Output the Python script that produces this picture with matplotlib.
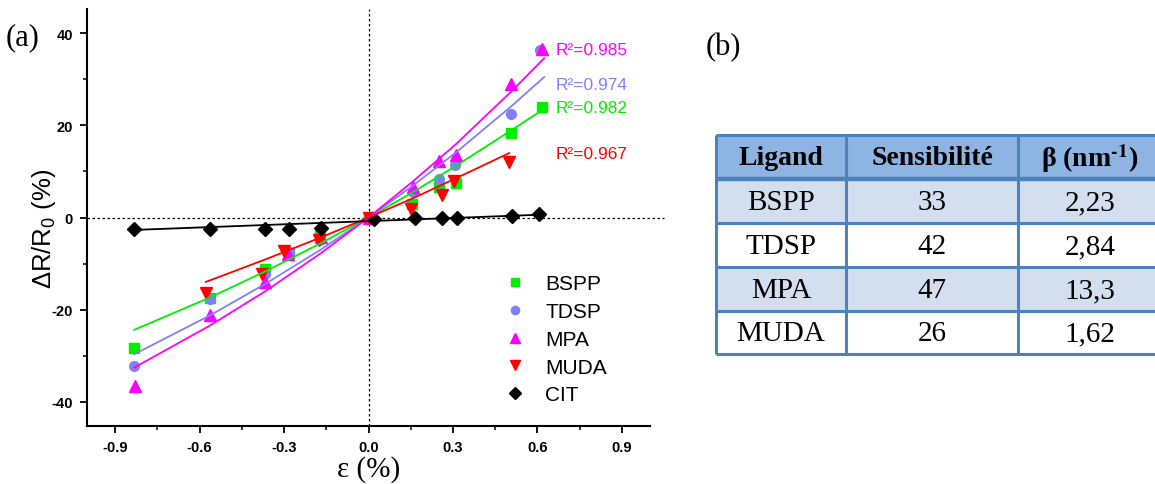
import matplotlib
matplotlib.use('Agg')
import matplotlib.pyplot as plt
from matplotlib.patches import Rectangle
from matplotlib.lines import Line2D
from matplotlib.ticker import MultipleLocator

plt.rcParams['mathtext.fontset'] = 'custom'
plt.rcParams['mathtext.rm'] = 'Liberation Sans'
plt.rcParams['mathtext.it'] = 'Liberation Sans:italic'
plt.rcParams['mathtext.bf'] = 'Liberation Sans:bold'
plt.rcParams['font.family'] = ['Liberation Sans', 'DejaVu Sans']

# ---------------- data (panel a) ----------------
bspp_x = [-0.832, -0.564, -0.366, -0.282, -0.174, 0.0, 0.155, 0.252, 0.311, 0.506, 0.618]
bspp_y = [-28.4, -17.5, -11.2, -7.8, -4.0, 0.0, 2.9, 6.6, 7.5, 18.4, 24.0]
tdsp_x = [-0.832, -0.564, -0.366, -0.282, -0.174, 0.0, 0.157, 0.249, 0.308, 0.506, 0.608]
tdsp_y = [-32.2, -17.7, -12.3, -7.6, -4.8, 0.0, 5.5, 8.4, 11.4, 22.5, 36.4]
mpa_x = [-0.829, -0.564, -0.366, -0.287, -0.168, 0.0, 0.157, 0.249, 0.311, 0.506, 0.618]
mpa_y = [-36.6, -21.2, -14.1, -7.9, -4.3, 0.0, 6.6, 12.3, 13.6, 29.0, 36.6]
muda_x = [-0.578, -0.377, -0.300, -0.177, 0.0, 0.151, 0.261, 0.302, 0.500]
muda_y = [-16.3, -12.3, -7.2, -4.9, 0.0, 1.8, 4.9, 8.0, 12.0]
cit_x = [-0.832, -0.564, -0.366, -0.282, -0.168, 0.02, 0.166, 0.260, 0.313, 0.509, 0.606]
cit_y = [-2.5, -2.4, -2.4, -2.4, -2.2, -0.3, -0.2, -0.2, -0.1, 0.3, 0.7]

# fitted curves
fit_x = [-0.832, -0.564, -0.366, -0.17, 0.0, 0.155, 0.31, 0.506, 0.624]
bspp_fit = [-24.4, -17.4, -11.7, -5.6, 0.0, 5.4, 11.2, 18.9, 23.6]
tdsp_fit = [-29.7, -21.3, -14.4, -7.0, 0.0, 6.8, 14.1, 24.1, 30.5]
mpa_fit = [-32.6, -23.5, -16.0, -7.8, 0.0, 7.7, 15.9, 27.3, 34.6]
muda_fit_x = [-0.578, -0.366, -0.17, 0.0, 0.155, 0.31, 0.5]
muda_fit = [-14.0, -9.1, -4.35, 0.0, 4.1, 8.5, 14.0]
cit_fit_x = [-0.832, 0.606]
cit_fit = [-2.7, 0.6]

r2_labels = ['R²=0.985', 'R²=0.974', 'R²=0.982', 'R²=0.967']
r2_y = [36.4, 29.0, 24.0, 14.0]

# ---------------- data (panel b) ----------------
ligands = ['BSPP', 'TDSP', 'MPA', 'MUDA']
sensibilite = ['33', '42', '47', '26']
beta = ['2,23', '2,84', '13,3', '1,62']
headers = ['Ligand', 'Sensibilité', 'β (nm$^{\\mathbf{‐1}}$)']

C_BSPP = '#00EE00'
C_TDSP = '#8080FF'
C_MPA = '#FF00FF'
C_MUDA = '#FF0000'
C_CIT = '#000000'

W, H = 1155, 485
fig = plt.figure(figsize=(W / 100, H / 100), dpi=100)
ax = fig.add_axes([87 / W, 1 - 427 / H, (650 - 87) / W, (427 - 10) / H])

ax.plot([-1.0, 1.05], [0, 0], color='black', lw=0.9, ls=(0, (2, 2)), zorder=1, clip_on=False)
ax.axvline(0, color='black', lw=0.9, ls=(0, (2, 2)), zorder=1)

series = [
    (bspp_x, bspp_y, fit_x, bspp_fit, C_BSPP, 's', 6.5, 'BSPP'),
    (tdsp_x, tdsp_y, fit_x, tdsp_fit, C_TDSP, 'o', 7, 'TDSP'),
    (mpa_x, mpa_y, fit_x, mpa_fit, C_MPA, '^', 8.5, 'MPA'),
    (muda_x, muda_y, muda_fit_x, muda_fit, C_MUDA, 'v', 8.5, 'MUDA'),
    (cit_x, cit_y, cit_fit_x, cit_fit, C_CIT, 'D', 7, 'CIT'),
]
handles = []
for sx, sy, fx, fy, c, m, ms, lab in series:
    ax.plot(sx, sy, ls='none', marker=m, ms=ms, color=c, mec=c, zorder=3)
    ax.plot(fx, fy, color=c, lw=1.3, zorder=4)
    handles.append(Line2D([], [], ls='none', marker=m, ms=ms * 0.85, color=c, mec=c, label=lab))

for lab, yy, c in zip(r2_labels, r2_y, [C_MPA, C_TDSP, C_BSPP, C_MUDA]):
    ax.text(0.663, yy, lab, color=c, fontsize=12.5, va='center', ha='left')

ax.set_xlim(-1.0, 1.0)
ax.set_ylim(-45.3, 45.3)
ax.xaxis.set_minor_locator(MultipleLocator(0.15))
ax.yaxis.set_minor_locator(MultipleLocator(10))
ax.set_xticks([-0.9, -0.6, -0.3, 0.0, 0.3, 0.6, 0.9])
ax.set_xticklabels(['-0.9', '-0.6', '-0.3', '0.0', '0.3', '0.6', '0.9'])
ax.set_yticks([-40, -20, 0, 20, 40])
ax.set_yticklabels(['-40', '-20', '0', '20', '40'])
for s in ['top', 'right']:
    ax.spines[s].set_visible(False)
for s in ['left', 'bottom']:
    ax.spines[s].set_linewidth(1.5)
ax.tick_params(which='major', direction='out', length=5, width=1.3, pad=5, labelsize=10.5)
ax.tick_params(which='minor', direction='out', length=3, width=1.1)
for t in ax.get_xticklabels() + ax.get_yticklabels():
    t.set_fontweight('bold')

ax.set_xlabel('ε (%)', fontsize=21, family='Liberation Serif', labelpad=1)
ax.set_ylabel(r'ΔR/R$_\mathregular{0}$ (%)', fontsize=18.5)
ax.yaxis.set_label_coords((58 - 87) / 563, (427 - 229) / 417)

leg = ax.legend(handles=handles, loc='upper left', bbox_to_anchor=((494 - 87) / 563, (427 - 265) / 417),
                frameon=False, fontsize=15, handlelength=1.0, handletextpad=0.95,
                labelspacing=0.42, borderpad=0)

# ---------------- overlay for labels and table ----------------
ov = fig.add_axes([0, 0, 1, 1], zorder=-1)
ov.set_xlim(0, W)
ov.set_ylim(H, 0)
ov.axis('off')

ov.text(6, 38, '(a)', fontsize=22, family='Liberation Serif', va='center', ha='left')
ov.text(706, 48, '(b)', fontsize=22, family='Liberation Serif', va='center', ha='left')

col_edges = [716, 846, 1018, 1162]
row_edges = [136, 180, 224, 268, 312, 355]
border = '#4F81BD'
fills = ['#8DB4E2', '#D3DFEE', '#FFFFFF', '#D3DFEE', '#FFFFFF']
for r in range(5):
    y0, y1 = row_edges[r], row_edges[r + 1]
    ov.add_patch(Rectangle((col_edges[0], y0), col_edges[-1] - col_edges[0], y1 - y0,
                           facecolor=fills[r], edgecolor='none', clip_on=False))
for yy in row_edges:
    lw = 3.2 if yy == row_edges[1] else 2.2
    ov.plot([col_edges[0], col_edges[-1]], [yy, yy], color=border, lw=lw, solid_capstyle='butt', clip_on=False)
for xx in col_edges:
    ov.plot([xx, xx], [row_edges[0], row_edges[-1]], color=border, lw=2.2, solid_capstyle='butt', clip_on=False)

centers_x = [(col_edges[i] + col_edges[i + 1]) / 2 for i in range(3)]
centers_x[2] = 1090
for i, h in enumerate(headers):
    ov.text(centers_x[i], (row_edges[0] + row_edges[1]) / 2 + 1, h, fontsize=20, fontweight='bold',
            family='Liberation Serif', math_fontfamily='stix', ha='center', va='center')
for r in range(4):
    yc = (row_edges[r + 1] + row_edges[r + 2]) / 2 + 1
    for i, val in enumerate([ligands[r], sensibilite[r], beta[r]]):
        ov.text(centers_x[i], yc, val, fontsize=21, family='Liberation Serif', ha='center', va='center')

fig.savefig('out.png', dpi=100)
